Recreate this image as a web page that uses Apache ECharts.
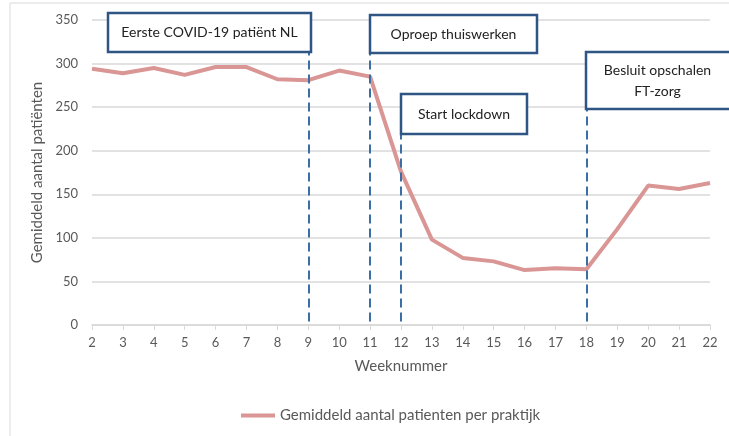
<!DOCTYPE html>
<html>
<head>
<meta charset="utf-8">
<script src="https://cdn.jsdelivr.net/npm/echarts@6/dist/echarts.min.js"></script>
<style>
  html, body { margin: 0; padding: 0; background: #fff; }
  #chart { width: 729px; height: 436px; }
</style>
</head>
<body>
<div id="chart"></div>
<script>
// weeknummers en gemiddeld aantal patiënten per praktijk
const weeks = [2, 3, 4, 5, 6, 7, 8, 9, 10, 11, 12, 13, 14, 15, 16, 17, 18, 19, 20, 21, 22];
const patients = [294, 289, 295, 287, 296, 296, 282, 281, 292, 285, 176, 98, 77, 73, 63, 65, 64, 110, 160, 156, 163];

// gebeurtenissen (verticale stippellijnen)
const eventWeeks = [9, 11, 12, 18];
const eventTops = [313, 312, 220, 248];
const eventLabels = ['Eerste COVID-19 patiënt NL', 'Oproep thuiswerken', 'Start lockdown', 'Besluit opschalen\nFT-zorg'];

const FONT = 'Lato, "Open Sans", sans-serif';
const BOX_COLOR = '#2f5584';

const chart = echarts.init(document.getElementById('chart'));

// kaders voor de gebeurtenissen
const boxes = [
    { x: 108, y: 13, w: 203, h: 39 },
    { x: 370, y: 15, w: 167, h: 38 },
    { x: 401, y: 94, w: 126, h: 40 },
    { x: 586, y: 52, w: 150, h: 57 }
];

const graphics = [{
    type: 'rect',
    shape: { x: 10, y: 3, width: 740, height: 450 },
    style: { fill: 'none', stroke: '#d9d9d9', lineWidth: 1 },
    z: 0
}];
boxes.forEach((b, i) => {
    graphics.push({
        type: 'rect',
        shape: { x: b.x, y: b.y, width: b.w, height: b.h },
        style: { fill: '#fff', stroke: BOX_COLOR, lineWidth: 2.5 },
        z: 100
    });
    graphics.push({
        type: 'text',
        x: i === 3 ? 586 + 143 / 2 : b.x + b.w / 2,
        y: b.y + b.h / 2,
        style: {
            text: eventLabels[i],
            fill: '#222',
            font: '14px ' + FONT,
            align: 'center',
            verticalAlign: 'middle',
            lineHeight: 21
        },
        z: 101
    });
});

const option = {
    animation: false,
    grid: { left: 92, right: 19, top: 20, bottom: 111 },
    xAxis: {
        type: 'value',
        min: 2,
        max: 22,
        interval: 1,
        name: 'Weeknummer',
        nameLocation: 'middle',
        nameGap: 34,
        nameTextStyle: { color: '#595959', fontSize: 15, fontFamily: FONT },
        axisLine: { lineStyle: { color: '#d9d9d9', width: 1.5 } },
        axisTick: { show: true, length: 5, lineStyle: { color: '#d9d9d9' } },
        axisLabel: { color: '#595959', fontSize: 13, fontFamily: FONT, margin: 11 },
        splitLine: { show: false }
    },
    yAxis: {
        type: 'value',
        min: 0,
        max: 350,
        interval: 50,
        name: 'Gemiddeld aantal patiënten',
        nameLocation: 'middle',
        nameGap: 41,
        nameTextStyle: { color: '#595959', fontSize: 15, fontFamily: FONT },
        axisLine: { show: false },
        axisTick: { show: false },
        axisLabel: { color: '#595959', fontSize: 13, fontFamily: FONT, margin: 14 },
        splitLine: { lineStyle: { color: '#d9d9d9', width: 1.5 } }
    },
    legend: {
        left: 236,
        top: 403,
        icon: 'rect',
        itemWidth: 34,
        itemHeight: 4,
        itemGap: 2,
        textStyle: { color: '#595959', fontSize: 15, fontFamily: FONT },
        data: ['Gemiddeld aantal patienten per praktijk']
    },
    series: [{
        name: 'Gemiddeld aantal patienten per praktijk',
        type: 'line',
        data: weeks.map((w, i) => [w, patients[i]]),
        symbol: 'none',
        lineStyle: { color: '#d99694', width: 4 },
        itemStyle: { color: '#d99694' },
        markLine: {
            silent: true,
            symbol: 'none',
            label: { show: false },
            lineStyle: { color: '#3b6ea5', width: 2, type: [9, 5] },
            data: eventWeeks.map((w, i) => [{ coord: [w, 4] }, { coord: [w, eventTops[i]] }])
        },
        z: 3
    }],
    graphic: graphics
};

chart.setOption(option);
</script>
</body>
</html>
